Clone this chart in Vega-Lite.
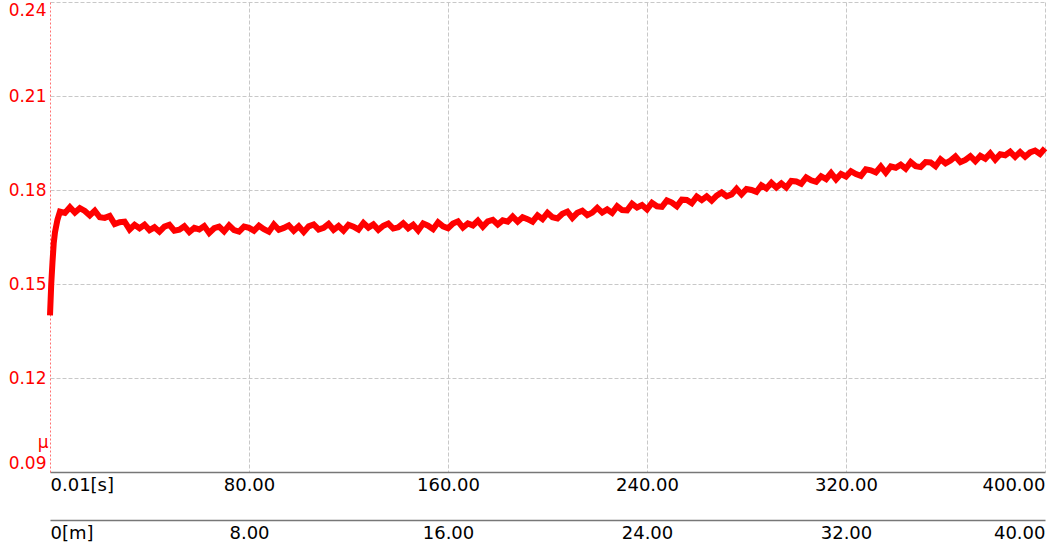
{
  "$schema": "https://vega.github.io/schema/vega-lite/v6.json",
  "width": 995,
  "height": 470,
  "autosize": {"type": "none"},
  "padding": {"left": 50, "top": 2, "right": 9, "bottom": 74},
  "background": "white",
  "config": {"view": {"stroke": null}, "font": "DejaVu Sans"},
  "layer": [
    {
      "data": {
        "values": [
          {"t":0,"mu":0.140},{"t":0.5,"mu":0.150},{"t":1,"mu":0.157},{"t":1.5,"mu":0.163},{"t":2,"mu":0.1665},{"t":3,"mu":0.1705},
          {"t":4,"mu":0.1731},{"t":6,"mu":0.1727},{"t":8,"mu":0.1745},{"t":10,"mu":0.1728},{"t":12,"mu":0.1742},{"t":14,"mu":0.1733},{"t":16,"mu":0.1719},{"t":18,"mu":0.1734},{"t":20,"mu":0.1713},{"t":22,"mu":0.1711},
          {"t":24,"mu":0.1717},{"t":26,"mu":0.1691},{"t":28,"mu":0.1697},{"t":30,"mu":0.1699},{"t":32,"mu":0.1674},{"t":34,"mu":0.1689},{"t":36,"mu":0.1678},{"t":38,"mu":0.1689},{"t":40,"mu":0.1672},{"t":42,"mu":0.1681},
          {"t":44,"mu":0.1667},{"t":46,"mu":0.1683},{"t":48,"mu":0.1689},{"t":50,"mu":0.1670},{"t":52,"mu":0.1673},{"t":54,"mu":0.1684},{"t":56,"mu":0.1666},{"t":58,"mu":0.1679},{"t":60,"mu":0.1674},{"t":62,"mu":0.1685},
          {"t":64,"mu":0.1663},{"t":66,"mu":0.1678},{"t":68,"mu":0.1683},{"t":70,"mu":0.1668},{"t":72,"mu":0.1687},{"t":74,"mu":0.1672},{"t":76,"mu":0.1667},{"t":78,"mu":0.1683},{"t":80,"mu":0.1679},{"t":82,"mu":0.1670},
          {"t":84,"mu":0.1686},{"t":86,"mu":0.1675},{"t":88,"mu":0.1667},{"t":90,"mu":0.1690},{"t":92,"mu":0.1673},{"t":94,"mu":0.1679},{"t":96,"mu":0.1687},{"t":98,"mu":0.1670},{"t":100,"mu":0.1684},{"t":102,"mu":0.1666},
          {"t":104,"mu":0.1684},{"t":106,"mu":0.1690},{"t":108,"mu":0.1674},{"t":110,"mu":0.1679},{"t":112,"mu":0.1692},{"t":114,"mu":0.1673},{"t":116,"mu":0.1685},{"t":118,"mu":0.1670},{"t":120,"mu":0.1689},{"t":122,"mu":0.1683},
          {"t":124,"mu":0.1674},{"t":126,"mu":0.1695},{"t":128,"mu":0.1680},{"t":130,"mu":0.1690},{"t":132,"mu":0.1673},{"t":134,"mu":0.1686},{"t":136,"mu":0.1693},{"t":138,"mu":0.1677},{"t":140,"mu":0.1681},{"t":142,"mu":0.1694},
          {"t":144,"mu":0.1678},{"t":146,"mu":0.1689},{"t":148,"mu":0.1671},{"t":150,"mu":0.1693},{"t":152,"mu":0.1686},{"t":154,"mu":0.1675},{"t":156,"mu":0.1697},{"t":158,"mu":0.1684},{"t":160,"mu":0.1678},{"t":162,"mu":0.1693},
          {"t":164,"mu":0.1700},{"t":166,"mu":0.1680},{"t":168,"mu":0.1693},{"t":170,"mu":0.1687},{"t":172,"mu":0.1702},{"t":174,"mu":0.1683},{"t":176,"mu":0.1700},{"t":178,"mu":0.1705},{"t":180,"mu":0.1690},{"t":182,"mu":0.1703},
          {"t":184,"mu":0.1699},{"t":186,"mu":0.1715},{"t":188,"mu":0.1699},{"t":190,"mu":0.1713},{"t":192,"mu":0.1707},{"t":194,"mu":0.1699},{"t":196,"mu":0.1719},{"t":198,"mu":0.1707},{"t":200,"mu":0.1727},{"t":202,"mu":0.1713},
          {"t":204,"mu":0.1709},{"t":206,"mu":0.1724},{"t":208,"mu":0.1731},{"t":210,"mu":0.1711},{"t":212,"mu":0.1727},{"t":214,"mu":0.1734},{"t":216,"mu":0.1720},{"t":218,"mu":0.1728},{"t":220,"mu":0.1743},{"t":222,"mu":0.1728},
          {"t":224,"mu":0.1738},{"t":226,"mu":0.1727},{"t":228,"mu":0.1748},{"t":230,"mu":0.1736},{"t":232,"mu":0.1735},{"t":234,"mu":0.1756},{"t":236,"mu":0.1744},{"t":238,"mu":0.1752},{"t":240,"mu":0.1738},{"t":242,"mu":0.1759},
          {"t":244,"mu":0.1748},{"t":246,"mu":0.1746},{"t":248,"mu":0.1767},{"t":250,"mu":0.1760},{"t":252,"mu":0.1748},{"t":254,"mu":0.1769},{"t":256,"mu":0.1768},{"t":258,"mu":0.1758},{"t":260,"mu":0.1779},{"t":262,"mu":0.1768},
          {"t":264,"mu":0.1780},{"t":266,"mu":0.1766},{"t":268,"mu":0.1782},{"t":270,"mu":0.1792},{"t":272,"mu":0.1780},{"t":274,"mu":0.1786},{"t":276,"mu":0.1804},{"t":278,"mu":0.1786},{"t":280,"mu":0.1803},{"t":282,"mu":0.1800},
          {"t":284,"mu":0.1794},{"t":286,"mu":0.1815},{"t":288,"mu":0.1805},{"t":290,"mu":0.1823},{"t":292,"mu":0.1808},{"t":294,"mu":0.1821},{"t":296,"mu":0.1808},{"t":298,"mu":0.1829},{"t":300,"mu":0.1827},{"t":302,"mu":0.1820},
          {"t":304,"mu":0.1840},{"t":306,"mu":0.1831},{"t":308,"mu":0.1826},{"t":310,"mu":0.1844},{"t":312,"mu":0.1835},{"t":314,"mu":0.1854},{"t":316,"mu":0.1834},{"t":318,"mu":0.1851},{"t":320,"mu":0.1843},{"t":322,"mu":0.1860},
          {"t":324,"mu":0.1851},{"t":326,"mu":0.1845},{"t":328,"mu":0.1866},{"t":330,"mu":0.1863},{"t":332,"mu":0.1856},{"t":334,"mu":0.1875},{"t":336,"mu":0.1855},{"t":338,"mu":0.1875},{"t":340,"mu":0.1871},{"t":342,"mu":0.1881},
          {"t":344,"mu":0.1868},{"t":346,"mu":0.1889},{"t":348,"mu":0.1876},{"t":350,"mu":0.1873},{"t":352,"mu":0.1889},{"t":354,"mu":0.1888},{"t":356,"mu":0.1876},{"t":358,"mu":0.1898},{"t":360,"mu":0.1885},{"t":362,"mu":0.1894},
          {"t":364,"mu":0.1907},{"t":366,"mu":0.1889},{"t":368,"mu":0.1896},{"t":370,"mu":0.1908},{"t":372,"mu":0.1892},{"t":374,"mu":0.1909},{"t":376,"mu":0.1900},{"t":378,"mu":0.1917},{"t":380,"mu":0.1897},{"t":382,"mu":0.1914},
          {"t":384,"mu":0.1911},{"t":386,"mu":0.1922},{"t":388,"mu":0.1906},{"t":390,"mu":0.1921},{"t":392,"mu":0.1906},{"t":394,"mu":0.1920},{"t":396,"mu":0.1926},{"t":398,"mu":0.1915},{"t":400,"mu":0.1933}
        ]
      },
      "mark": {"type": "line", "color": "#ff0000", "strokeWidth": 6, "interpolate": "linear", "strokeJoin": "miter"},
      "encoding": {
        "x": {
          "field": "t", "type": "quantitative",
          "scale": {"domain": [0, 400], "nice": false, "zero": false},
          "axis": {
            "orient": "bottom",
            "values": [0, 80, 160, 240, 320, 400],
            "labelExpr": "datum.value == 0 ? '0.01[s]' : format(datum.value, '.2f')",
            "title": null,
            "ticks": false,
            "labelFlush": true,
            "labelFontSize": 18,
            "labelColor": "#000000",
            "labelPadding": 4,
            "domainColor": "#777777",
            "domainWidth": 1.5,
            "grid": true,
            "gridColor": "#c8c8c8",
            "gridDash": [4, 2],
            "gridWidth": 1,
            "gridOpacity": {"condition": {"test": "datum.value == 0", "value": 0}, "value": 1}
          }
        },
        "y": {
          "field": "mu", "type": "quantitative",
          "scale": {"domain": [0.09, 0.24], "nice": false, "zero": false},
          "axis": {
            "values": [0.09, 0.12, 0.15, 0.18, 0.21, 0.24],
            "format": ".2f",
            "title": "μ",
            "titleAngle": 0,
            "titleAlign": "right",
            "titleBaseline": "middle",
            "titleX": -2,
            "titleY": 440,
            "titleColor": "#ff0000",
            "titleFontSize": 17,
            "titleFontWeight": "normal",
            "labelColor": "#ff0000",
            "labelFontSize": 17,
            "ticks": false,
            "labelPadding": 4,
            "labelFlush": true,
            "domainColor": "#ff7070",
            "domainDash": [2, 2],
            "domainWidth": 1,
            "grid": true,
            "gridColor": "#c8c8c8",
            "gridDash": [4, 2],
            "gridWidth": 1
          }
        }
      }
    },
    {
      "data": {"values": [{"d": 0}, {"d": 40}]},
      "mark": {"type": "point", "opacity": 0},
      "encoding": {
        "x": {
          "field": "d", "type": "quantitative",
          "scale": {"domain": [0, 40], "nice": false, "zero": false},
          "axis": {
            "orient": "bottom",
            "offset": 48,
            "values": [0, 8, 16, 24, 32, 40],
            "labelExpr": "datum.value == 0 ? '0[m]' : format(datum.value, '.2f')",
            "title": null,
            "ticks": false,
            "labelFlush": true,
            "labelFontSize": 18,
            "labelColor": "#000000",
            "labelPadding": 4,
            "domainColor": "#777777",
            "domainWidth": 1.5,
            "grid": false
          }
        }
      }
    }
  ],
  "resolve": {"scale": {"x": "independent"}, "axis": {"x": "independent"}}
}
